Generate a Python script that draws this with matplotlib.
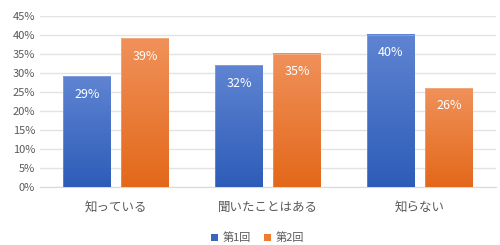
import matplotlib
matplotlib.use('Agg')
import matplotlib.pyplot as plt
import numpy as np
from matplotlib.colors import LinearSegmentedColormap
from matplotlib.patches import Patch

plt.rcParams['font.family'] = ['Noto Sans CJK JP', 'DejaVu Sans']

# Data
categories = ['知っている', '聞いたことはある', '知らない']
series_names = ['第1回', '第2回']
round1 = [29, 32, 40]
round2 = [39, 35, 26]

# gradient colours (top, bottom) per series
grad_colors = [('#5f84d2', '#2d5cb8'), ('#f0915a', '#e3681a')]
legend_colors = ['#3a66c0', '#ed7d31']

fig = plt.figure(figsize=(5, 2.45), dpi=100)
ax = fig.add_axes([0.08, 0.238, 0.912, 0.698])

x = np.arange(len(categories))
width = 0.31
gap = 0.072
offsets = [-(width + gap) / 2, (width + gap) / 2]

for vals, off, (ctop, cbot) in zip([round1, round2], offsets, grad_colors):
    cmap = LinearSegmentedColormap.from_list('g', [cbot, ctop])
    grad = np.linspace(0, 1, 256).reshape(-1, 1)
    bars = ax.bar(x + off, vals, width, color='none', edgecolor='none', zorder=3)
    for b, v in zip(bars, vals):
        x0 = b.get_x()
        ax.imshow(grad, cmap=cmap, origin='lower', aspect='auto',
                  extent=[x0, x0 + width, 0, v], zorder=3, interpolation='bilinear')
        ax.add_patch(plt.Rectangle((x0, 0), width, v, fill=False,
                                   edgecolor='white', linewidth=0.5, alpha=0.3, zorder=4))
        ax.annotate(f'{v}%', (x0 + width / 2, v), xytext=(0, -13),
                    textcoords='offset points', ha='center', va='center',
                    color='white', fontsize=9, zorder=5)

ax.set_xlim(-0.5, len(categories) - 0.5)
ax.set_ylim(0, 45)
ax.set_yticks(np.arange(0, 46, 5))
ax.set_yticklabels([f'{t}%' for t in range(0, 46, 5)])
ax.set_xticks(x)
ax.set_xticklabels(categories, fontsize=9)
ax.tick_params(axis='both', length=0, colors='#595959', labelsize=8)
ax.tick_params(axis='x', pad=10, labelsize=9)
ax.grid(axis='y', color='#e3e3e3', linewidth=1, zorder=0)
ax.set_axisbelow(True)
for s in ['top', 'right', 'left']:
    ax.spines[s].set_visible(False)
ax.spines['bottom'].set_color('#d9d9d9')

handles = [Patch(facecolor=c, edgecolor='none', label=n) for c, n in zip(legend_colors, series_names)]
fig.legend(handles=handles, loc='center', bbox_to_anchor=(0.515, 0.03), ncol=2,
           frameon=False, fontsize=8, handlelength=0.6, handleheight=0.6,
           handletextpad=0.4, columnspacing=1.2, labelcolor='#595959')

fig.savefig('out.png', dpi=100)
